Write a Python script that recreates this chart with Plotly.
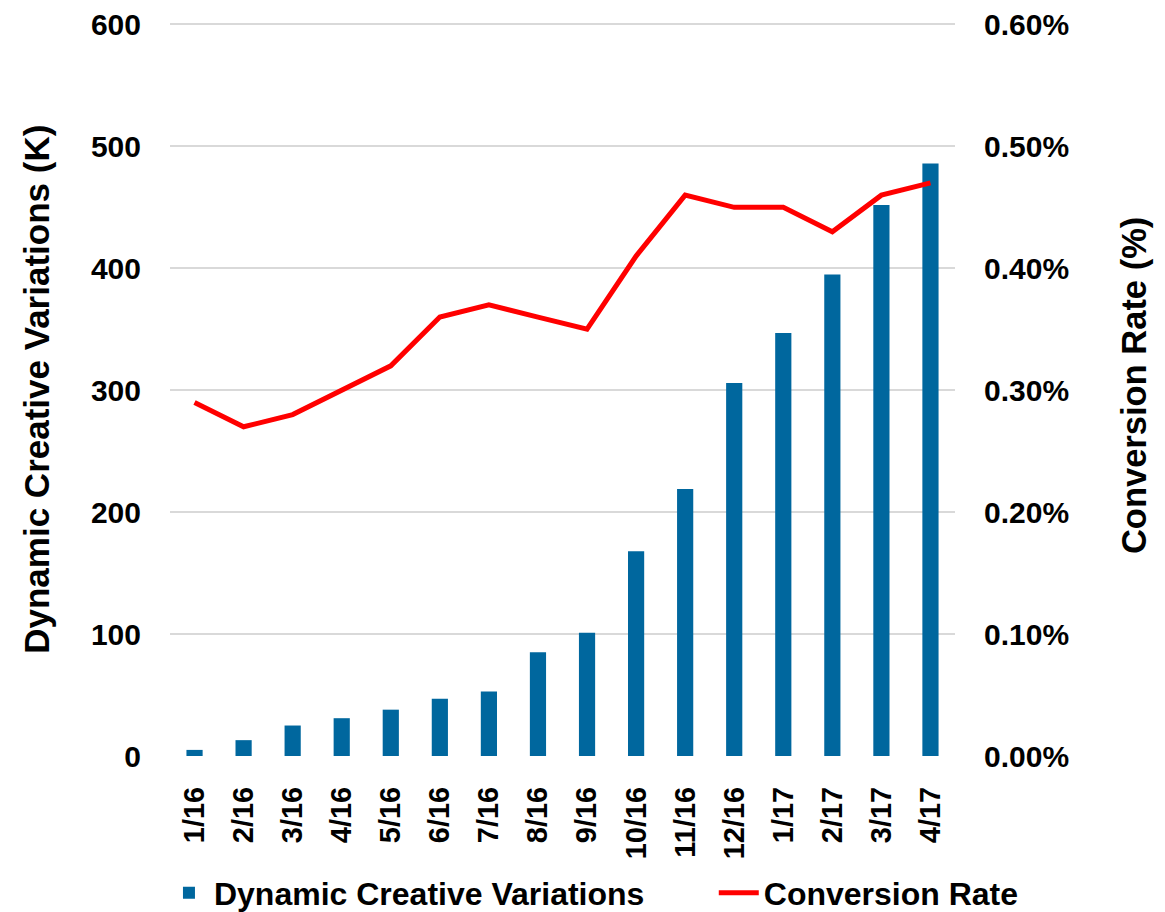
import plotly.graph_objects as go

months = ["1/16", "2/16", "3/16", "4/16", "5/16", "6/16", "7/16", "8/16",
          "9/16", "10/16", "11/16", "12/16", "1/17", "2/17", "3/17", "4/17"]
variations_k = [5, 13, 25, 31, 38, 47, 53, 85, 101, 168, 219, 306, 347, 395, 452, 486]
conversion_pct = [0.29, 0.27, 0.28, 0.30, 0.32, 0.36, 0.37, 0.36, 0.35, 0.41,
                  0.46, 0.45, 0.45, 0.43, 0.46, 0.47]
left_ticks = [0, 100, 200, 300, 400, 500, 600]
right_ticks = [0, 0.1, 0.2, 0.3, 0.4, 0.5, 0.6]
right_ticktext = [f"{v:.2f}%" for v in right_ticks]

FONT = "Liberation Sans, Arial, Helvetica, sans-serif"
BLUE = "#00679E"
RED = "#FF0000"

# the page body adds an 8px margin, so the figure is 8px smaller on each axis
W, H = 1157, 904

fig = go.Figure()
fig.add_trace(go.Bar(
    x=months, y=variations_k, name="Dynamic Creative Variations",
    marker=dict(color=BLUE, line=dict(width=0)), yaxis="y", legend="legend",
))
fig.add_trace(go.Scatter(
    x=months, y=conversion_pct, name="Conversion Rate", mode="lines",
    line=dict(color=RED, width=5), yaxis="y2", legend="legend2",
))

legend_font = dict(family=FONT, size=32, weight="bold", color="black")

fig.update_layout(
    width=W, height=H, autosize=False,
    margin=dict(l=162, r=210, t=13.5, b=156, autoexpand=False),
    paper_bgcolor="white", plot_bgcolor="white",
    bargap=0.67,
    font=dict(family=FONT, color="black"),
    showlegend=True,
    legend=dict(
        orientation="h", xref="container", yref="container",
        x=0.1348, xanchor="left", y=0.021, yanchor="middle",
        font=legend_font, itemwidth=40, bgcolor="rgba(0,0,0,0)",
    ),
    legend2=dict(
        orientation="h", xref="container", yref="container",
        x=0.610, xanchor="left", y=0.021, yanchor="middle",
        font=legend_font, itemwidth=40, bgcolor="rgba(0,0,0,0)",
    ),
    xaxis=dict(
        type="category", tickangle=-90, showgrid=False, zeroline=False,
        showline=False, ticks="", ticklabelstandoff=24, automargin=False,
        tickfont=dict(family=FONT, size=29, weight="bold", color="black"),
    ),
    yaxis=dict(
        range=[0, 602], tickvals=left_ticks, showgrid=True,
        gridcolor="#D9D9D9", gridwidth=2, zeroline=False, showline=False,
        ticks="", ticklabelstandoff=28, automargin=False,
        ticklabeloverflow="allow",
        tickfont=dict(family=FONT, size=30, weight="bold", color="black"),
    ),
    yaxis2=dict(
        range=[0, 0.602], tickvals=right_ticks, ticktext=right_ticktext,
        overlaying="y", side="right", showgrid=False, zeroline=False,
        showline=False, ticks="", ticklabelstandoff=28, automargin=False,
        ticklabeloverflow="allow",
        tickfont=dict(family=FONT, size=30, weight="bold", color="black"),
    ),
    annotations=[
        dict(text="Dynamic Creative Variations (K)", xref="paper", yref="paper",
             x=-0.1694, y=0.499, xanchor="center", yanchor="middle",
             textangle=-90, showarrow=False,
             font=dict(family=FONT, size=35, weight="bold", color="black")),
        dict(text="Conversion Rate (%)", xref="paper", yref="paper",
             x=1.229, y=0.505, xanchor="center", yanchor="middle",
             textangle=-90, showarrow=False,
             font=dict(family=FONT, size=34.5, weight="bold", color="black")),
    ],
)

fig.write_html("out.html")
